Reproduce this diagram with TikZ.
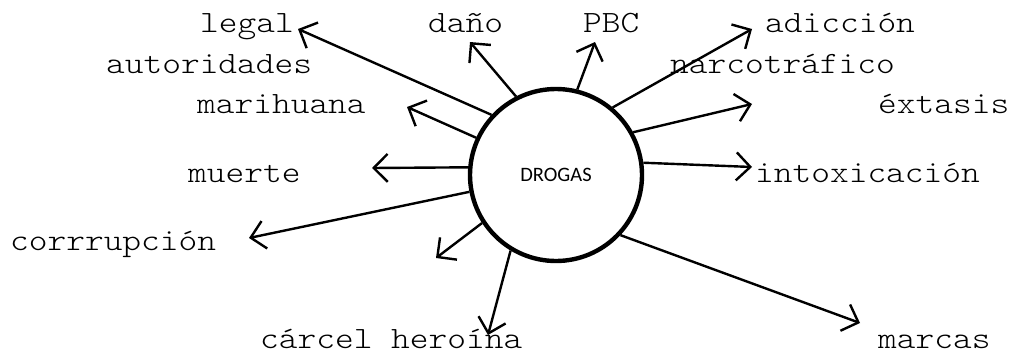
\documentclass[tikz,border=0pt]{standalone}
\usepackage{fontspec}
\newfontfamily\monofont[Extension=.otf,FakeStretch=1.15]{lmmonolt10-regular}
\newfontfamily\calfont{Carlito}
\usetikzlibrary{arrows.meta}
\begin{document}
\begin{tikzpicture}[x=1pt,y=-1pt,
  lbl/.style={anchor=base west,inner sep=0pt,font=\monofont\fontsize{31}{31}\selectfont},
  arr/.style={line width=2.4pt,-{Straight Barb[length=14pt,width=28pt,line width=2.4pt]}}]
\useasboundingbox (0,0) rectangle (1016,356);
\node[circle,draw,line width=4.4pt,minimum size=172pt,inner sep=0pt,font=\calfont\fontsize{20.5}{20.5}\selectfont] (c) at (556,175) {DROGAS};
% labels
\node[lbl] (legal) at (200,32) {legal};
\node[lbl] (aut) at (106,73) {autoridades};
\node[lbl] (mari) at (197,113) {marihuana};
\node[lbl] (muerte) at (188,182) {muerte};
\node[lbl] (corr) at (10,250) {corrrupción};
\node[lbl] (carcel) at (260,348) {cárcel};
\node[lbl] (heroina) at (391,348) {heroína};
\node[lbl] (dano) at (428,32) {daño};
\node[lbl] (pbc) at (583,32) {PBC};
\node[lbl] (adic) at (765,32) {adicción};
\node[lbl] (narco) at (670,73) {narcotráfico};
\node[lbl] (ext) at (878,113) {éxtasis};
\node[lbl] (into) at (755,182) {intoxicación};
\node[lbl] (marcas) at (878,348) {marcas};
% arrow tips
\coordinate (tLegal) at (298,29);
\coordinate (tDano) at (470,42);
\coordinate (tPbc) at (595,42);
\coordinate (tAdic) at (752,29);
\coordinate (tExt) at (752,104);
\coordinate (tInto) at (752,167);
\coordinate (tMarcas) at (860,323);
\coordinate (tHer) at (488,335);
\coordinate (tCar) at (436,258);
\coordinate (tCorr) at (249,238);
\coordinate (tMuerte) at (372,168);
\coordinate (tMari) at (407,107);
% arrows
\draw[arr] (c.137.7) -- (tLegal);
\draw[arr] (c.117) -- (tDano);
\draw[arr] (c.76) -- (tPbc);
\draw[arr] (c.50) -- (tAdic);
\draw[arr] (c.29) -- (tExt);
\draw[arr] (c.8.5) -- (tInto);
\draw[arr] (c.-43) -- (tMarcas);
\draw[arr] (c.239.5) -- (tHer);
\draw[arr] (c.213) -- (tCar);
\draw[arr] (c.191) -- (tCorr);
\draw[arr] (c.175.5) -- (tMuerte);
\draw[arr] (c.155) -- (tMari);
\end{tikzpicture}
\end{document}
